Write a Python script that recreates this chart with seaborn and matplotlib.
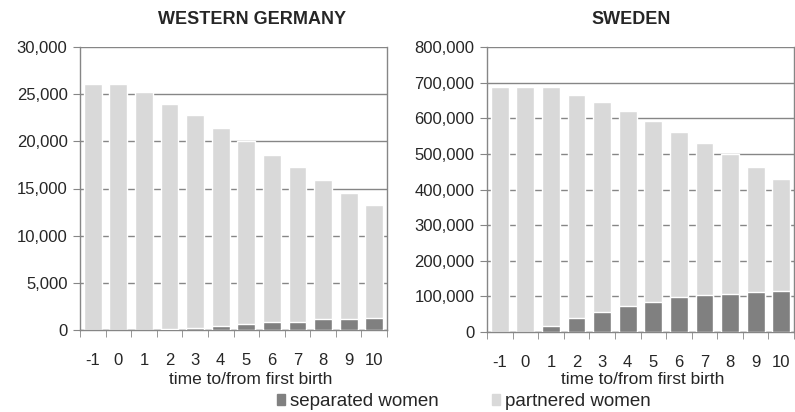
import numpy as np
import pandas as pd
import seaborn as sns
import matplotlib.pyplot as plt
from matplotlib.patches import Patch
from matplotlib.ticker import FuncFormatter, MultipleLocator

years = [-1, 0, 1, 2, 3, 4, 5, 6, 7, 8, 9, 10]

# Western Germany
de_separated = [0, 0, 30, 100, 200, 450, 600, 800, 900, 1150, 1150, 1250]
de_partnered = [26100, 26100, 25220, 23900, 22600, 21000, 19400, 17800, 16400, 14700, 13400, 11950]

# Sweden
se_separated = [0, 0, 18000, 38000, 56000, 73000, 85000, 97000, 103000, 108000, 111000, 114000]
se_partnered = [687000, 687000, 669000, 628000, 590000, 547000, 508000, 465000, 427000, 391000, 352000, 316000]

sep_color = '#808080'
par_color = '#d9d9d9'
grid_color = '#868686'

sns.set_style('white')
plt.rcParams['font.family'] = ['Liberation Sans', 'DejaVu Sans']

W, H = 795, 412
fig = plt.figure(figsize=(W / 100, H / 100), dpi=100)
ax1 = fig.add_axes([80 / W, 1 - 330 / H, 307 / W, 283 / H])
ax2 = fig.add_axes([487 / W, 1 - 332 / H, 307 / W, 285 / H])


def draw(ax, separated, partnered, ymax, step, title, title_x, label_x):
    df = pd.DataFrame({'year': [str(y) for y in years],
                       'separated': separated,
                       'total': np.array(separated) + np.array(partnered)})
    sns.barplot(data=df, x='year', y='total', color=par_color, width=0.7,
                saturation=1, ax=ax, zorder=2)
    sns.barplot(data=df, x='year', y='separated', color=sep_color, width=0.7,
                saturation=1, ax=ax, zorder=3)
    ax.set_ylim(0, ymax)
    ax.set_xlim(-0.5, len(years) - 0.5)
    ax.yaxis.set_major_locator(MultipleLocator(step))
    ax.yaxis.set_major_formatter(FuncFormatter(lambda v, p: f'{int(v):,}'))
    ax.yaxis.grid(True, color=grid_color, linewidth=1, zorder=0)
    ax.set_axisbelow(True)
    for s in ['left', 'bottom', 'right']:
        ax.spines[s].set_visible(True)
        ax.spines[s].set_color(grid_color)
        ax.spines[s].set_linewidth(1)
    ax.spines['top'].set_visible(False)
    ax.tick_params(axis='y', which='major', left=True, length=5, color=grid_color,
                   labelsize=12, pad=4)
    ax.tick_params(axis='x', which='major', bottom=False, labelsize=12, pad=13)
    ax.set_xticks(np.arange(-0.5, len(years), 1), minor=True)
    ax.tick_params(axis='x', which='minor', bottom=True, length=5, color=grid_color)
    ax.set_xlabel('')
    ax.set_ylabel('')
    fig.text(title_x / W, 1 - 20 / H, title, ha='center', va='center',
             fontsize=13, fontweight='bold')
    fig.text(label_x / W, 1 - 379 / H, 'time to/from first birth', ha='center',
             va='center', fontsize=12.5)


draw(ax1, de_separated, de_partnered, 30000, 5000, 'WESTERN GERMANY', 252, 251)
draw(ax2, se_separated, se_partnered, 800000, 100000, 'SWEDEN', 631, 643)

handles = [Patch(color=sep_color, label='separated women'),
           Patch(color=par_color, label='partnered women')]
fig.legend(handles=handles, loc='center left', bbox_to_anchor=(277 / W, 1 - 402 / H),
           ncol=2, frameon=False, fontsize=13.5, handlelength=0.43, handleheight=0.53,
           handletextpad=0.27, columnspacing=2.83, borderpad=0, borderaxespad=0)

fig.savefig('out.png', dpi=100)
